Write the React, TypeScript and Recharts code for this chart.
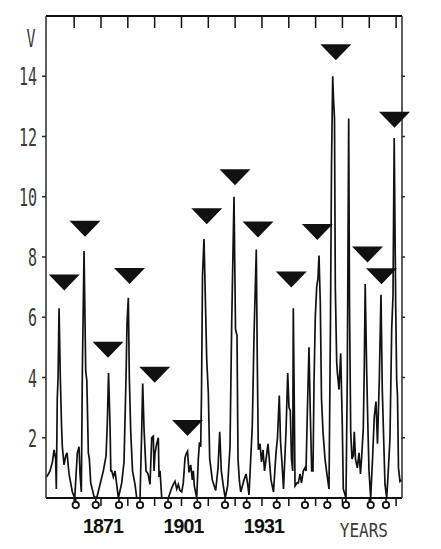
import { ComposedChart, Line, Scatter, XAxis, YAxis, Label } from 'recharts'

// axis setup
const X_DOMAIN: [number, number] = [1850.5, 1983.2]
const Y_DOMAIN: [number, number] = [0, 16]
const decadeTicks = [1861, 1871, 1881, 1891, 1901, 1911, 1921, 1931, 1941, 1951, 1961, 1971, 1981]
const labelledYears = [1871, 1901, 1931]
const levelTicks = [2, 4, 6, 8, 10, 12, 14]

// trace, [year, V]
const trace1850: [number, number][] = [
  [1850.8, 0.7], [1852.0, 0.9], [1852.9, 1.2], [1853.5, 1.6], [1854.1, 1.3], [1854.35, 0.3],
  [1854.7, 3.3], [1855.0, 4.0], [1855.36, 6.3], [1855.84, 4.0], [1856.29, 2.4], [1856.59, 1.7],
  [1857.22, 1.1], [1857.86, 1.4], [1858.34, 1.5], [1859.09, 0.8], [1860.32, 0.2], [1861.21, 0],
  [1862.18, 1.5], [1862.81, 1.7], [1863.19, 0.8], [1863.67, 0.2], [1864.04, 4.1], [1864.68, 8.2],
  [1865.31, 4.2], [1865.72, 3.9], [1866.28, 1.5], [1866.65, 1.3], [1867.17, 0.5], [1868.4, 0.05],
  [1869.41, 0],
]

const trace1870: [number, number][] = [
  [1870.64, 0.45], [1871.87, 0.9], [1872.88, 1.4], [1873.36, 2.5], [1873.81, 4.15], [1874.37, 2.4],
  [1874.66, 0.9], [1875.0, 0.9], [1875.6, 0.7], [1876.23, 0.9], [1876.86, 0.45], [1877.46, 0],
  [1878.73, 0.5], [1879.58, 1.2], [1880.33, 4.0], [1880.7, 5.8], [1881.19, 6.65], [1881.56, 4.0],
  [1882.08, 2.2], [1882.75, 0.9], [1883.68, 0.45], [1884.32, 0], [1885.55, 0],
]

const trace1886: [number, number][] = [
  [1886.18, 2.25], [1886.55, 3.8], [1887.04, 2.3], [1887.78, 0.9], [1888.53, 0.8], [1889.27, 0.45],
  [1889.91, 2.0], [1890.5, 2.05], [1890.77, 0.9], [1891.14, 1.5], [1891.77, 1.8], [1892.37, 2.0],
  [1892.63, 0.7], [1893.0, 0.9], [1893.64, 0], [1896.09, 0], [1897.36, 0.33], [1897.96, 0.45],
  [1898.59, 0.55], [1899.23, 0.3], [1899.82, 0.45], [1900.45, 0.25], [1901.09, 0.2], [1901.68, 0.5],
  [1902.32, 1.33], [1902.69, 1.45], [1903.25, 1.55], [1903.81, 0.85], [1904.44, 1.1], [1905.04, 0.6],
  [1905.41, 0.9], [1905.79, 0.4], [1906.68, 0], [1907.28, 1.3], [1907.72, 1.85], [1908.17, 1.7],
  [1908.47, 3.5], [1908.84, 7.4], [1909.4, 8.6],
]

const trace1910: [number, number][] = [
  [1910.41, 4.6], [1911.0, 3.5], [1911.52, 1.3], [1912.49, 0.6], [1913.76, 0.25], [1914.62, 1.0],
  [1915.25, 2.2], [1915.85, 0.9], [1916.59, 0.4], [1917.3, 0], [1918.2, 0.4], [1919.09, 1.7],
  [1919.72, 5.8], [1920.58, 10.0], [1921.14, 5.6], [1921.7, 5.4], [1922.07, 1.3], [1922.56, 0.6],
  [1923.08, 0.2], [1924.31, 0.6], [1925.05, 0.8], [1925.61, 0.5], [1926.17, 0.1], [1927.4, 2.4],
  [1928.04, 5.4], [1928.89, 8.25], [1929.26, 4.5], [1929.64, 1.6], [1930.27, 1.8],
]

const trace1930: [number, number][] = [
  [1930.83, 1.2], [1931.39, 1.6], [1931.95, 0.9], [1932.69, 1.4], [1933.25, 1.8], [1933.81, 1.2],
  [1934.37, 0.6], [1935.3, 0.2], [1936.23, 1.5], [1936.79, 2.0], [1937.46, 3.4], [1937.91, 1.9],
  [1938.58, 1.0], [1939.03, 0.3], [1939.96, 2.2], [1940.6, 4.15], [1941.08, 3.0], [1941.56, 2.9],
  [1942.01, 1.3], [1942.46, 0.9], [1942.68, 6.3], [1943.06, 3.0], [1943.32, 0.4], [1944.06, 0.5],
  [1944.55, 0.5], [1945.18, 0.8], [1945.74, 0.5], [1946.41, 0.9],
]

const trace1947: [number, number][] = [
  [1947.04, 1.0], [1947.42, 0.9], [1947.9, 2.8], [1948.53, 5.0], [1949.02, 2.8], [1949.54, 0.9],
  [1950.02, 0.9], [1950.4, 3.8], [1950.88, 6.0], [1951.4, 7.0], [1951.89, 7.3], [1952.26, 8.05],
  [1952.74, 6.5], [1953.19, 3.3], [1953.75, 2.2], [1954.5, 1.3], [1955.35, 0.7], [1955.99, 0.3],
  [1956.55, 6.0], [1956.92, 11.0], [1957.37, 14.0], [1957.59, 13.4], [1958.04, 12.6], [1958.34, 7.0],
  [1958.86, 4.5], [1959.08, 4.2], [1959.72, 3.6], [1960.35, 4.8], [1960.95, 2.4], [1961.32, 0.3],
  [1962.32, 0],
]

const trace1962: [number, number][] = [
  [1962.81, 4.0], [1963.33, 12.6], [1963.63, 6.4], [1964.08, 2.2], [1964.56, 1.3], [1965.04, 1.4],
  [1965.42, 2.2], [1965.86, 1.3], [1966.54, 1.0], [1967.17, 1.5], [1967.73, 0.8], [1968.18, 1.4],
  [1968.77, 2.3], [1969.14, 4.3], [1969.48, 7.1], [1970.04, 4.2], [1970.45, 2.5], [1970.9, 0.9],
  [1971.53, 0], [1972.27, 1.4], [1972.87, 2.7], [1973.5, 3.2], [1974.06, 1.8], [1974.73, 3.9],
  [1975.37, 6.75], [1975.85, 3.6], [1976.23, 2.4], [1976.86, 0.45], [1977.49, 0], [1978.09, 0.9],
  [1978.72, 2.0], [1979.36, 5.6], [1979.84, 6.7], [1980.29, 11.95], [1980.85, 6.4], [1981.22, 3.9],
  [1981.52, 3.4], [1981.89, 1.0], [1982.45, 0.55], [1983.0, 0.6],
]

// triangles above the cycle maxima
const peakYears = [1857.3, 1865.05, 1873.62, 1881.63, 1891.03, 1903.25, 1910.41, 1920.95, 1929.53, 1941.94, 1951.63, 1958.52, 1970.34, 1975.55, 1980.4]
const peakMarks = [7.15, 8.94, 4.92, 7.37, 4.09, 2.32, 9.35, 10.65, 8.91, 7.25, 8.83, 14.8, 8.08, 7.36, 12.56]

// "o" marks under the axis (minima)
const minimumYears = [1861.58, 1869.04, 1877.72, 1885.55, 1895.98, 1906.9, 1917.23, 1925.31, 1936.5, 1947.04, 1955.35, 1962.32, 1971.53, 1977.23]

const lineData = [...trace1850, ...trace1870, ...trace1886, ...trace1910, ...trace1930, ...trace1947, ...trace1962]
  .map(([year, v]) => ({ year, v }))
const peakData = peakYears.map((year, i) => ({ year, mark: peakMarks[i] }))
const minimumData = minimumYears.map((year) => ({ year, zero: 0 }))
// frame: top border and decade marks on the top / bottom edges
const frameData = X_DOMAIN.map((year) => ({ year, top: Y_DOMAIN[1] }))
const topTickData = decadeTicks.map((year) => ({ year, top: Y_DOMAIN[1] }))
const bottomTickData = decadeTicks.map((year) => ({ year, base: Y_DOMAIN[0] }))

const INK = '#111'
const DOT_FONT = '"DejaVu Sans Mono", "Liberation Mono", monospace'

const renderLevelTick = ({ x, y, payload }: any) => (
  <text
    transform={`translate(${x - 3},${y + 9}) scale(0.6,1)`}
    textAnchor="end"
    fontFamily={DOT_FONT}
    fontSize={25}
    fill="#3a3a3a"
  >
    {payload.value}
  </text>
)

const renderYearTick = ({ x, y, payload }: any) => {
  if (!labelledYears.includes(payload.value)) return <g />
  return (
    <text
      x={x + 2}
      y={y + 25}
      textAnchor="middle"
      fontFamily='"Liberation Sans", Arial, sans-serif'
      fontWeight={700}
      fontSize={19.5}
      letterSpacing={-0.8}
      fill={INK}
    >
      {payload.value}
    </text>
  )
}

const renderNoTick = () => <g />

const VCaption = ({ viewBox }: any) => (
  <text
    transform={`translate(${viewBox.x + 31},${viewBox.y + 30.5}) scale(0.6,1)`}
    textAnchor="middle"
    fontFamily={DOT_FONT}
    fontSize={25}
    fill="#3a3a3a"
  >
    V
  </text>
)

const YearsCaption = ({ viewBox }: any) => (
  <text
    transform={`translate(${viewBox.x + viewBox.width - 14},${viewBox.y + 39}) scale(0.8,1)`}
    textAnchor="end"
    fontFamily={DOT_FONT}
    fontSize={20}
    fill="#3a3a3a"
  >
    YEARS
  </text>
)

const PeakMarker = ({ cx, cy }: any) => (
  <path d={`M${cx - 15.5},${cy - 8}L${cx + 15.5},${cy - 8}L${cx},${cy + 8}Z`} fill={INK} />
)

const MinimumMarker = ({ cx, cy }: any) => (
  <g>
    <rect x={cx - 0.8} y={cy} width={1.6} height={4} fill={INK} />
    <circle cx={cx} cy={cy + 7} r={3.2} fill="#fff" stroke={INK} strokeWidth={1.8} />
  </g>
)

// tick marks as thin filled rects
const TopTick = ({ cx, cy }: any) => <rect x={cx - 0.75} y={cy} width={1.5} height={12} fill={INK} />
const BottomTick = ({ cx, cy }: any) => <rect x={cx - 0.75} y={cy} width={1.5} height={8} fill={INK} />

export default function App() {
  return (
    <div style={{ position: 'absolute', left: 0, top: 0, width: 441, height: 549, background: '#fff' }}>
      <ComposedChart width={441} height={549} margin={{ top: 16, right: 0, bottom: 0, left: 0 }}>
        <XAxis
          xAxisId="bottom"
          dataKey="year"
          type="number"
          domain={X_DOMAIN}
          ticks={decadeTicks}
          interval={0}
          height={51}
          tickSize={8}
          tick={renderYearTick}
          axisLine={{ stroke: INK, strokeWidth: 2 }}
          tickLine={false}
        >
          <Label content={<YearsCaption />} />
        </XAxis>
        <YAxis
          yAxisId="left"
          type="number"
          domain={Y_DOMAIN}
          ticks={levelTicks}
          interval={0}
          width={46}
          tickSize={4}
          tick={renderLevelTick}
          axisLine={{ stroke: '#2a2a2a', strokeWidth: 1.5 }}
          tickLine={{ stroke: '#2a2a2a', strokeWidth: 1.5 }}
        >
          <Label content={<VCaption />} />
        </YAxis>
        <YAxis
          yAxisId="right"
          orientation="right"
          type="number"
          domain={Y_DOMAIN}
          ticks={levelTicks}
          interval={0}
          width={39}
          tickSize={3}
          tick={renderNoTick}
          axisLine={{ stroke: '#2a2a2a', strokeWidth: 1.5 }}
          tickLine={{ stroke: '#2a2a2a', strokeWidth: 1.5 }}
        />
        <Line
          xAxisId="bottom"
          yAxisId="left"
          data={lineData}
          dataKey="v"
          type="linear"
          stroke={INK}
          strokeWidth={1.7}
          dot={false}
          isAnimationActive={false}
        />
        <Line
          xAxisId="bottom"
          yAxisId="left"
          data={frameData}
          dataKey="top"
          type="linear"
          stroke={INK}
          strokeWidth={2}
          dot={false}
          isAnimationActive={false}
        />
        <Scatter
          xAxisId="bottom"
          yAxisId="left"
          data={topTickData}
          dataKey="top"
          shape={TopTick}
          isAnimationActive={false}
        />
        <Scatter
          xAxisId="bottom"
          yAxisId="left"
          data={bottomTickData}
          dataKey="base"
          shape={BottomTick}
          isAnimationActive={false}
        />
        <Scatter
          xAxisId="bottom"
          yAxisId="left"
          data={minimumData}
          dataKey="zero"
          shape={MinimumMarker}
          isAnimationActive={false}
        />
        <Scatter
          xAxisId="bottom"
          yAxisId="right"
          data={peakData}
          dataKey="mark"
          shape={PeakMarker}
          isAnimationActive={false}
        />
      </ComposedChart>
    </div>
  )
}
